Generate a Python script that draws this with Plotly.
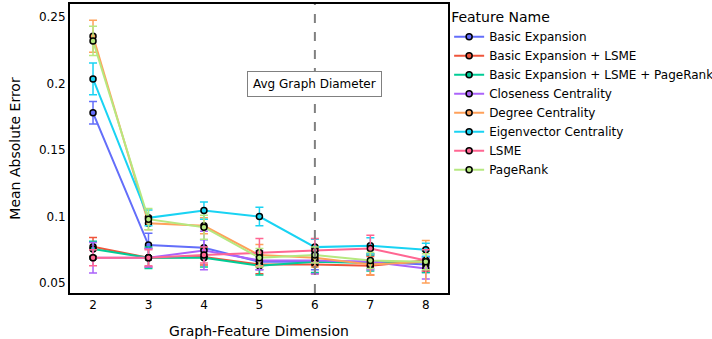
import plotly.graph_objects as go

dims = [2, 3, 4, 5, 6, 7, 8]

names = [
    "Basic Expansion",
    "Basic Expansion + LSME",
    "Basic Expansion + LSME + PageRank",
    "Closeness Centrality",
    "Degree Centrality",
    "Eigenvector Centrality",
    "LSME",
    "PageRank",
]

basic_expansion = [0.178, 0.0785, 0.0765, 0.066, 0.066, 0.066, 0.064]
basic_lsme = [0.0772, 0.069, 0.0695, 0.064, 0.064, 0.063, 0.067]
basic_lsme_pr = [0.0755, 0.069, 0.069, 0.063, 0.066, 0.065, 0.066]
closeness = [0.069, 0.069, 0.0745, 0.067, 0.067, 0.066, 0.061]
degree = [0.2355, 0.095, 0.093, 0.071, 0.069, 0.064, 0.066]
eigenvector = [0.2035, 0.099, 0.1045, 0.100, 0.077, 0.078, 0.075]
lsme = [0.069, 0.069, 0.071, 0.073, 0.0745, 0.076, 0.067]
pagerank = [0.232, 0.098, 0.092, 0.069, 0.071, 0.067, 0.066]

err_basic_expansion = [0.0085, 0.009, 0.006, 0.006, 0.006, 0.005, 0.006]
err_basic_lsme = [0.007, 0.007, 0.006, 0.007, 0.007, 0.007, 0.008]
err_basic_lsme_pr = [0.006, 0.008, 0.007, 0.007, 0.008, 0.006, 0.008]
err_closeness = [0.0115, 0.007, 0.0145, 0.007, 0.010, 0.006, 0.008]
err_degree = [0.012, 0.005, 0.006, 0.008, 0.007, 0.008, 0.016]
err_eigenvector = [0.012, 0.006, 0.0065, 0.007, 0.006, 0.006, 0.005]
err_lsme = [0.006, 0.006, 0.006, 0.0105, 0.009, 0.010, 0.008]
err_pagerank = [0.011, 0.008, 0.009, 0.007, 0.006, 0.006, 0.006]

series = [basic_expansion, basic_lsme, basic_lsme_pr, closeness, degree, eigenvector, lsme, pagerank]
errors = [err_basic_expansion, err_basic_lsme, err_basic_lsme_pr, err_closeness, err_degree,
          err_eigenvector, err_lsme, err_pagerank]
colors = ["#636EFA", "#EF553B", "#00CC96", "#AB63FA", "#FFA15A", "#19D3F3", "#FF6692", "#B6E880"]

avg_diameter = 6
annotation_text = "Avg Graph Diameter"

fig = go.Figure()
for name, ys, es, c in zip(names, series, errors, colors):
    fig.add_trace(go.Scatter(
        x=dims, y=ys, name=name, mode="lines+markers",
        line=dict(color=c, width=2),
        marker=dict(color=c, size=6, line=dict(color="black", width=1.5)),
        error_y=dict(type="data", array=es, visible=True, color=c, thickness=1.5, width=4),
    ))

fig.add_vline(x=avg_diameter, line=dict(color="gray", width=2, dash="dash"))
fig.add_annotation(x=avg_diameter, y=0.2, text=annotation_text, showarrow=False,
                   bgcolor="white", bordercolor="gray", borderwidth=1, borderpad=5,
                   font=dict(size=12, color="black"))

fig.update_layout(
    width=712, height=339,
    margin=dict(l=70, r=264, t=4, b=46, autoexpand=False),
    paper_bgcolor="white", plot_bgcolor="white",
    font=dict(family="DejaVu Sans", size=12, color="black"),
    legend=dict(title=dict(text="Feature Name", font=dict(size=14)),
                x=1.003, y=1.0, xanchor="left", yanchor="top", font=dict(size=12),
                itemwidth=30, bgcolor="rgba(0,0,0,0)"),
    xaxis=dict(title=dict(text="Graph-Feature Dimension", font=dict(size=14)),
               range=[1.585, 8.4], tickvals=dims, showgrid=False, zeroline=False,
               showline=True, linecolor="black", linewidth=2, mirror=True, ticks=""),
    yaxis=dict(title=dict(text="Mean Absolute Error", font=dict(size=14)),
               range=[0.0425, 0.2598], tickvals=[0.05, 0.1, 0.15, 0.2, 0.25],
               showgrid=False, zeroline=False,
               showline=True, linecolor="black", linewidth=2, mirror=True, ticks=""),
)

fig.write_html("out.html")
